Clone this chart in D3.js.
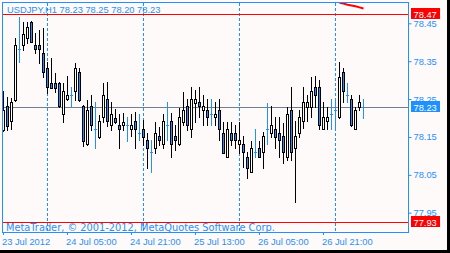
<!DOCTYPE html>
<html>
<head>
<meta charset="utf-8">
<script src="https://cdn.jsdelivr.net/npm/d3@7"></script>
<style>
  body { margin: 0; background: #000; }
  svg { display: block; }
  text { font-family: "Liberation Sans", Arial, sans-serif; font-size: 9.3px; }
</style>
</head>
<body>
<svg id="chart" width="450" height="253"></svg>
<script>
var title = "USDJPY,H1  78.23 78.25 78.20 78.23";
var copyright = "MetaTrader, \u00a9 2001-2012, MetaQuotes Software Corp.";
var firstBar = "2012-07-23 13:00";

// H1 candles, one per hour
var opens = [78.168, 78.232, 78.192, 78.248, 78.381, 78.393, 78.410, 78.453, 78.393, 78.393,
  78.371, 78.331, 78.292, 78.292, 78.292, 78.210, 78.250, 78.261, 78.271, 78.321,
  78.232, 78.131, 78.232, 78.171, 78.151, 78.203, 78.250, 78.182, 78.201, 78.182,
  78.181, 78.182, 78.170, 78.192, 78.161, 78.170, 78.142, 78.111, 78.120, 78.152,
  78.131, 78.182, 78.192, 78.152, 78.131, 78.190, 78.232, 78.170, 78.240, 78.242,
  78.221, 78.221, 78.211, 78.202, 78.221, 78.161, 78.098, 78.161, 78.161, 78.131,
  78.131, 78.098, 78.058, 78.109, 78.120, 78.109, 78.171, 78.160, 78.171, 78.160,
  78.152, 78.098, 78.221, 78.120, 78.160, 78.192, 78.230, 78.230, 78.281, 78.281,
  78.171, 78.192, 78.211, 78.221, 78.202, 78.321, 78.261, 78.250, 78.171, 78.230,
  78.230];
var highs = [78.271, 78.256, 78.252, 78.412, 78.467, 78.453, 78.454, 78.455, 78.424, 78.432,
  78.437, 78.349, 78.358, 78.318, 78.295, 78.292, 78.312, 78.283, 78.344, 78.331,
  78.234, 78.248, 78.261, 78.241, 78.208, 78.292, 78.296, 78.243, 78.224, 78.210,
  78.212, 78.203, 78.211, 78.217, 78.211, 78.195, 78.161, 78.142, 78.190, 78.177,
  78.211, 78.243, 78.212, 78.182, 78.226, 78.269, 78.249, 78.283, 78.274, 78.283,
  78.261, 78.249, 78.249, 78.243, 78.249, 78.190, 78.190, 78.190, 78.182, 78.190,
  78.152, 78.109, 78.139, 78.171, 78.139, 78.162, 78.239, 78.232, 78.203, 78.203,
  78.186, 78.230, 78.283, 78.192, 78.221, 78.281, 78.261, 78.309, 78.312, 78.300,
  78.241, 78.230, 78.250, 78.252, 78.349, 78.331, 78.292, 78.261, 78.230, 78.261,
  78.250];
var lows = [78.166, 78.168, 78.171, 78.246, 78.349, 78.380, 78.397, 78.400, 78.371, 78.344,
  78.309, 78.265, 78.278, 78.269, 78.230, 78.190, 78.248, 78.232, 78.248, 78.246,
  78.127, 78.129, 78.168, 78.120, 78.148, 78.190, 78.180, 78.168, 78.187, 78.120,
  78.168, 78.140, 78.152, 78.120, 78.142, 78.129, 78.067, 78.058, 78.108, 78.129,
  78.120, 78.142, 78.098, 78.116, 78.130, 78.182, 78.168, 78.151, 78.190, 78.203,
  78.182, 78.182, 78.182, 78.182, 78.142, 78.107, 78.096, 78.129, 78.120, 78.107,
  78.070, 78.041, 78.057, 78.098, 78.097, 78.069, 78.131, 78.151, 78.120, 78.098,
  78.080, 78.089, 78.089, 77.979, 78.151, 78.173, 78.192, 78.202, 78.230, 78.171,
  78.170, 78.171, 78.171, 78.171, 78.200, 78.241, 78.241, 78.180, 78.170, 78.221,
  78.200];
var closes = [78.221, 78.180, 78.241, 78.393, 78.381, 78.421, 78.441, 78.401, 78.381, 78.381,
  78.321, 78.283, 78.280, 78.280, 78.232, 78.271, 78.261, 78.261, 78.331, 78.248,
  78.139, 78.221, 78.182, 78.171, 78.192, 78.261, 78.192, 78.210, 78.190, 78.171,
  78.190, 78.182, 78.182, 78.170, 78.161, 78.151, 78.120, 78.111, 78.160, 78.142,
  78.192, 78.182, 78.131, 78.142, 78.202, 78.221, 78.182, 78.249, 78.249, 78.232,
  78.232, 78.202, 78.211, 78.211, 78.170, 78.108, 78.170, 78.142, 78.142, 78.142,
  78.109, 78.069, 78.120, 78.109, 78.098, 78.152, 78.171, 78.182, 78.151, 78.141,
  78.109, 78.210, 78.109, 78.152, 78.202, 78.241, 78.241, 78.271, 78.261, 78.182,
  78.202, 78.202, 78.211, 78.221, 78.309, 78.271, 78.261, 78.182, 78.221, 78.241,
  78.230];

// red indicator, only its last bars are visible at the top edge
var indicatorStart = 84;
var indicator = [78.504, 78.502, 78.499, 78.497, 78.495, 78.492, 78.489];

var levels = [78.474, 77.926];
var lastPrice = 78.23;
var priceTicks = [78.45, 78.35, 78.25, 78.15, 78.05, 77.95];
var timeTicks = ["2012-07-23 13:00", "2012-07-24 05:00", "2012-07-24 21:00",
  "2012-07-25 13:00", "2012-07-26 05:00", "2012-07-26 21:00"];
var timeLabels = ["23 Jul 2012", "24 Jul 05:00", "24 Jul 21:00",
  "25 Jul 13:00", "26 Jul 05:00", "26 Jul 21:00"];
var daySeparators = ["2012-07-24 00:00", "2012-07-25 00:00", "2012-07-26 00:00", "2012-07-27 00:00"];

var blue = "#1e90ff";
var font = "Liberation Sans, Arial, sans-serif";
var parse = d3.timeParse("%Y-%m-%d %H:%M");
var start = parse(firstBar);

var bars = opens.map(function (o, i) {
  return { t: d3.timeHour.offset(start, i), o: o, h: highs[i], l: lows[i], c: closes[i] };
});

var svg = d3.select("#chart");

svg.append("rect").attr("width", 450).attr("height", 253).attr("fill", "#000");
svg.append("rect").attr("width", 447).attr("height", 250).attr("fill", "#fffafa");

var xScale = d3.scaleTime()
  .domain([start, bars[bars.length - 1].t])
  .range([3, 363]);
var yScale = d3.scaleLinear().domain([77.95, 78.45]).range([212.7, 23.3]);

function col(t) { return Math.round(xScale(t)) + 0.5; }
function row(v) { return Math.round(yScale(v)) + 0.5; }

svg.append("clipPath").attr("id", "plot")
  .append("rect").attr("x", 3).attr("y", 3).attr("width", 405).attr("height", 229);

var plot = svg.append("g").attr("clip-path", "url(#plot)");

// day separators
plot.selectAll(".sep")
  .data(daySeparators)
  .enter()
  .append("line")
  .attr("x1", function (d) { return col(parse(d)); })
  .attr("x2", function (d) { return col(parse(d)); })
  .attr("y1", 3)
  .attr("y2", 232)
  .style("stroke", blue)
  .style("stroke-dasharray", "3,2");

// high / low levels
plot.selectAll(".level")
  .data(levels)
  .enter()
  .append("line")
  .attr("x1", 3)
  .attr("x2", 408)
  .attr("y1", function (d) { return row(d); })
  .attr("y2", function (d) { return row(d); })
  .style("stroke", "#ff0000");

// last price line
plot.append("line")
  .attr("x1", 3)
  .attr("x2", 408)
  .attr("y1", row(lastPrice))
  .attr("y2", row(lastPrice))
  .style("stroke", "#708090");

// candles
var candle = plot.selectAll(".bar")
  .data(bars)
  .enter()
  .append("g");

candle.append("line")
  .attr("x1", function (d) { return col(d.t); })
  .attr("x2", function (d) { return col(d.t); })
  .attr("y1", function (d) { return Math.round(yScale(d.h)); })
  .attr("y2", function (d) { return Math.round(yScale(d.l)) + 1; })
  .style("stroke", function (d) { return d.o === d.c ? blue : "#000"; });

candle.filter(function (d) { return d.o === d.c; })
  .append("line")
  .attr("x1", function (d) { return col(d.t) - 1.5; })
  .attr("x2", function (d) { return col(d.t) + 1.5; })
  .attr("y1", function (d) { return row(d.c); })
  .attr("y2", function (d) { return row(d.c); })
  .style("stroke", blue);

candle.filter(function (d) { return d.o !== d.c; })
  .append("rect")
  .attr("x", function (d) { return col(d.t) - 1; })
  .attr("y", function (d) { return row(Math.max(d.o, d.c)); })
  .attr("width", 2)
  .attr("height", function (d) {
    return Math.max(row(Math.min(d.o, d.c)) - row(Math.max(d.o, d.c)), 1);
  })
  .style("fill", function (d) { return d.c > d.o ? "#fff" : blue; })
  .style("stroke", "#000");

// indicator
var indLine = d3.line()
  .x(function (d, i) { return col(bars[indicatorStart + i].t); })
  .y(function (d) { return yScale(d); });

plot.append("path")
  .datum(indicator)
  .attr("d", indLine)
  .style("fill", "none")
  .style("stroke", "#ff0000")
  .style("stroke-width", 2);

// frame
svg.append("rect")
  .attr("x", 2.5).attr("y", 2.5)
  .attr("width", 406).attr("height", 230)
  .style("fill", "none")
  .style("stroke", blue);

// price axis
var yAxis = svg.append("g")
  .attr("transform", "translate(408.5,0)")
  .call(d3.axisRight(yScale).tickValues(priceTicks).tickSize(3).tickPadding(2)
    .tickFormat(d3.format(".2f")));
yAxis.select(".domain").remove();
yAxis.selectAll("line").style("stroke", blue);
yAxis.selectAll("text").style("fill", blue).style("font-size", "9.3px")
  .style("font-family", font);

// time axis
var xAxis = svg.append("g")
  .attr("transform", "translate(0,232)")
  .call(d3.axisBottom(xScale).tickValues(timeTicks.map(parse)).tickSize(3)
    .tickFormat(function (d, i) { return timeLabels[i]; }));
xAxis.select(".domain").remove();
xAxis.selectAll("line").style("stroke", blue);
xAxis.selectAll("text").style("fill", blue).style("font-size", "9.3px")
  .style("font-family", font)
  .attr("text-anchor", "start").attr("x", -1.5);

// price labels
var tags = [
  { v: levels[0], fill: "#ff0000" },
  { v: levels[1], fill: "#ff0000" },
  { v: lastPrice, fill: blue }
];
var tag = svg.selectAll(".tag").data(tags).enter().append("g")
  .attr("transform", function (d) { return "translate(411," + Math.round(yScale(d.v)) + ")"; });
tag.append("rect")
  .attr("x", 0).attr("y", -6)
  .attr("width", 29).attr("height", 11)
  .style("fill", function (d) { return d.fill; });
tag.append("text")
  .attr("x", 2.5).attr("y", 3.5)
  .style("fill", "#fff")
  .text(function (d) { return d.v.toFixed(2); });

// texts
svg.append("text").attr("x", 7).attr("y", 13).style("fill", blue).text(title);
svg.append("text").attr("x", 6).attr("y", 231).style("fill", blue)
  .style("font-family", "DejaVu Sans, sans-serif").style("font-size", "9.8px")
  .text(copyright);
</script>
</body>
</html>
